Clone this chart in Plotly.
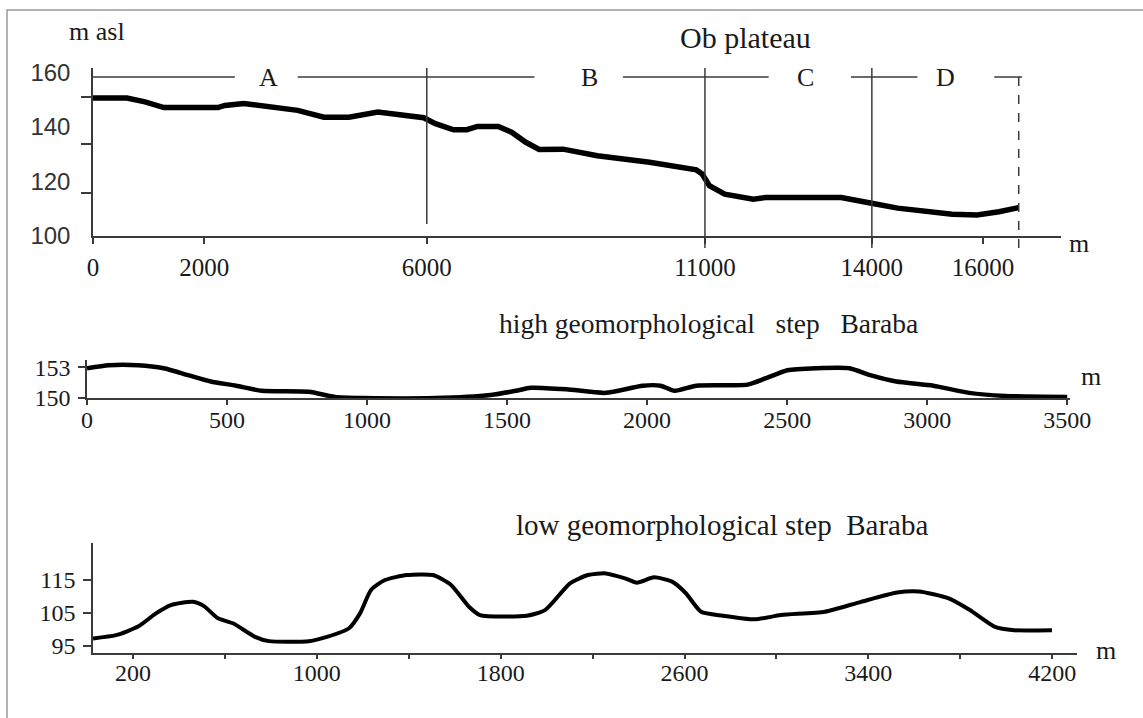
import plotly.graph_objects as go

W, H = 1143, 718

# ---------------- data ----------------
# Ob plateau profile (distance m, elevation m asl)
ob_x = [0, 610, 935, 1275, 2245, 2370, 2710, 3160, 3680, 4150, 4600, 5120, 5515, 5945,
        6155, 6480, 6720, 6910, 7285, 7525, 7780, 8020, 8450, 9065, 10005, 10845, 10950,
        11080, 11355, 11870, 12085, 13450, 14020, 14465, 15445, 15890, 16285, 16640]
ob_y = [150.5, 150.5, 149.1, 147.0, 147.0, 147.8, 148.5, 147.5, 146.0, 143.5, 143.5, 145.4,
        144.2, 143.3, 141.1, 138.9, 138.9, 140.1, 140.1, 138.0, 134.3, 131.7, 131.8, 129.4,
        127.0, 124.2, 122.7, 118.4, 115.3, 113.5, 114.1, 114.1, 111.9, 110.2, 108.0, 107.7,
        108.9, 110.4]
ob_xticks = [0, 2000, 6000, 11000, 14000, 16000]
ob_yticks = [100, 120, 140, 160]
ob_ytick_marks = [115.8, 133.5, 150.8]
zone_edges = [6000, 11000, 14000]
zone_end = 16640
zone_labels = ["A", "B", "C", "D"]
zone_label_x = [3160, 8930, 12800, 15320]
bracket_x0 = [0, 3680, 9525, 13625, 16200]
bracket_x1 = [2550, 7935, 12145, 14820, 16700]
bracket_level = 158.2

# High geomorphological step Baraba
high_x = [0, 78, 182, 274, 364, 442, 532, 624, 792, 885, 988, 1245, 1441, 1531, 1584,
          1712, 1852, 1984, 2048, 2098, 2176, 2358, 2422, 2501, 2604, 2722, 2800, 2890,
          3022, 3150, 3279, 3500]
high_y = [152.9, 153.2, 153.2, 152.9, 152.2, 151.6, 151.2, 150.7, 150.6, 150.1, 150.0,
          150.0, 150.3, 150.7, 151.0, 150.85, 150.5, 151.2, 151.2, 150.7, 151.2, 151.3,
          151.9, 152.7, 152.9, 152.9, 152.2, 151.6, 151.2, 150.5, 150.2, 150.1]
high_xticks = [0, 500, 1000, 1500, 2000, 2500, 3000, 3500]
high_yticks = [150, 153]

# Low geomorphological step Baraba
low_x = [26, 126, 222, 300, 365, 461, 509, 570, 635, 731, 792, 966, 1044, 1140, 1188,
         1236, 1297, 1392, 1505, 1584, 1662, 1710, 1914, 1993, 2102, 2180, 2258, 2341,
         2393, 2467, 2546, 2606, 2672, 2767, 2907, 3020, 3211, 3368, 3525, 3620, 3747,
         3842, 3951, 4034, 4199]
low_y = [97.3, 98.3, 100.9, 104.9, 107.4, 108.4, 107.1, 103.4, 101.9, 97.8, 96.5, 96.5,
         97.8, 100.4, 104.9, 112.0, 115.0, 116.5, 116.5, 113.5, 106.9, 104.4, 104.2, 105.9,
         114.0, 116.5, 117.0, 115.5, 114.2, 115.8, 114.5, 111.0, 105.4, 104.2, 103.1, 104.4,
         105.4, 108.4, 111.2, 111.5, 109.5, 105.9, 100.8, 99.8, 99.8]
low_xticks = [200, 1000, 1800, 2600, 3400, 4200]
low_xminor = [600, 1400, 2200, 3000, 3800]
low_yticks = [95, 105, 115]

# ---------------- helpers ----------------
def fx(p):
    return p / W

def fy(p):
    return 1 - p / H

SERIF = "Liberation Serif"
INK = "#1a1a1a"
AX = "#3a3a3a"
TICK_SIZE = 25

fig = go.Figure()

fig.add_trace(go.Scatter(x=ob_x, y=ob_y, mode="lines", xaxis="x", yaxis="y",
                         line=dict(color="black", width=5.5), hoverinfo="skip"))
bx, by = [], []
for a, b in zip(bracket_x0, bracket_x1):
    bx += [a, b, None]
    by += [bracket_level, bracket_level, None]
fig.add_trace(go.Scatter(x=bx, y=by, mode="lines", xaxis="x", yaxis="y",
                         line=dict(color=AX, width=1.5), hoverinfo="skip"))
fig.add_trace(go.Scatter(x=high_x, y=high_y, mode="lines", xaxis="x2", yaxis="y2",
                         line=dict(color="black", width=4.5, shape="spline", smoothing=0.6),
                         hoverinfo="skip"))
fig.add_trace(go.Scatter(x=low_x, y=low_y, mode="lines", xaxis="x3", yaxis="y3",
                         line=dict(color="black", width=4, shape="spline", smoothing=0.6),
                         hoverinfo="skip"))

axis_common = dict(showline=True, linecolor=AX, linewidth=1.5, showgrid=False,
                   zeroline=False, ticks="outside", tickcolor=AX, tickwidth=1.5,
                   automargin=False,
                   tickfont=dict(family=SERIF, size=TICK_SIZE - 1, color=INK))

def labels(vals):
    return [str(v) for v in vals]

fig.update_layout(
    width=W, height=H,
    autosize=False,
    margin=dict(l=0, r=0, t=0, b=0, pad=0),
    paper_bgcolor="white", plot_bgcolor="white",
    showlegend=False,
    xaxis=dict(axis_common, domain=[fx(93), fx(1061)], anchor="y", range=[0, 17400],
               tickmode="array", tickvals=ob_xticks, ticktext=labels(ob_xticks),
               ticklen=6, ticklabelstandoff=2,
               tickfont=dict(family=SERIF, size=TICK_SIZE, color=INK)),
    yaxis=dict(axis_common, domain=[fy(236), fy(68)], anchor="x", range=[100, 161.5],
               tickmode="array", tickvals=ob_yticks, ticktext=labels(ob_yticks),
               ticklen=10, tickcolor="rgba(0,0,0,0)", ticklabelstandoff=6,
               tickfont=dict(family="Liberation Sans", size=24, color="#333"),
               minor=dict(tickmode="array", tickvals=ob_ytick_marks, ticks="outside",
                          ticklen=10, tickcolor=AX, tickwidth=1.5)),
    xaxis2=dict(axis_common, domain=[fx(87), fx(1070)], anchor="y2", range=[0, 3510],
                tickmode="array", tickvals=high_xticks, ticktext=labels(high_xticks),
                ticklen=5, ticklabelstandoff=-6),
    yaxis2=dict(axis_common, domain=[fy(398), fy(360)], anchor="x2", range=[150, 153.7],
                tickmode="array", tickvals=high_yticks, ticktext=labels(high_yticks),
                ticklen=7, ticklabelstandoff=3),
    xaxis3=dict(axis_common, domain=[fx(93), fx(1077)], anchor="y3", range=[26, 4308],
                tickmode="array", tickvals=low_xticks, ticktext=labels(low_xticks),
                ticklen=5, ticklabelstandoff=-7,
                minor=dict(tickmode="array", tickvals=low_xminor, ticks="outside",
                           ticklen=5, tickcolor=AX, tickwidth=1.5)),
    yaxis3=dict(axis_common, domain=[fy(652.7), fy(543)], anchor="x3", range=[93, 126.2],
                tickmode="array", tickvals=low_yticks, ticktext=labels(low_yticks),
                ticklen=8, ticklabelstandoff=3),
)

# zone boundary lines on the Ob plateau profile
for i, e in enumerate(zone_edges):
    y0 = 0.072 if i == 0 else -0.072
    fig.add_shape(type="line", xref="x", yref="y domain", x0=e, x1=e, y0=y0, y1=1.0,
                  line=dict(color=AX, width=1.5))
fig.add_shape(type="line", xref="x", yref="y domain", x0=zone_end, x1=zone_end,
              y0=-0.072, y1=1.0, line=dict(color=AX, width=1.5, dash="dash"))

# frame (top and left edges visible)
fig.add_shape(type="path", xref="paper", yref="paper",
              path=f"M {fx(7)} 0 L {fx(7)} {fy(10)} L 1 {fy(10)}",
              line=dict(color="#9a9a9a", width=1.5))

for lab, lx in zip(zone_labels, zone_label_x):
    fig.add_annotation(text=lab, x=lx, y=bracket_level, xref="x", yref="y",
                       showarrow=False, font=dict(family=SERIF, size=26, color=INK))

def note(text, x, y, size):
    fig.add_annotation(text=text, x=fx(x), y=fy(y), xref="paper", yref="paper",
                       showarrow=False, xanchor="center", yanchor="middle",
                       font=dict(family=SERIF, size=size, color=INK))

NB = "\u00a0"
note("m asl", 97, 32, 26)
note("Ob plateau", 745, 38, 30)
note("m", 1079, 243, 26)
note(f"high geomorphological{NB*3}step{NB*3}Baraba", 708, 323, 27.5)
note("m", 1091, 377, 26)
note(f"low geomorphological step{NB*2}Baraba", 722, 525, 29)
note("m", 1106, 650, 26)

fig.write_html(
    "out.html",
    config={"displayModeBar": False},
    post_script=("document.documentElement.style.overflow='hidden';"
                 "document.body.style.margin='0';document.body.style.overflow='hidden';"),
)
